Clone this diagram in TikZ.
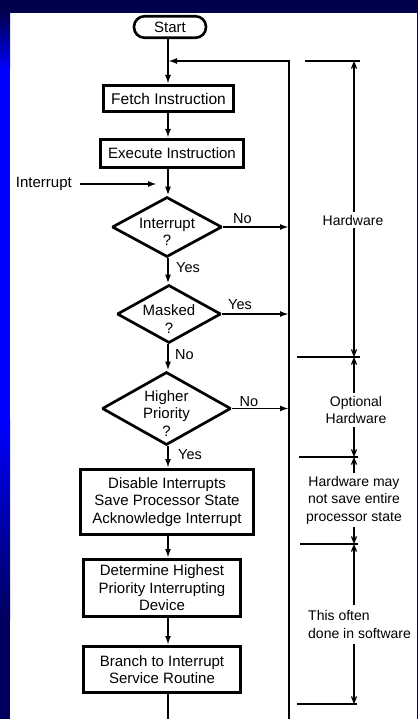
\documentclass[tikz,border=0pt]{standalone}
\usepackage{fontspec}
\setmainfont{Liberation Sans}
\usetikzlibrary{arrows.meta,shapes.geometric}
\definecolor{navy}{RGB}{0,0,78}
\definecolor{navylow}{RGB}{0,0,92}
\definecolor{slideblue}{RGB}{0,0,255}
\begin{document}
\begin{tikzpicture}[x=1pt,y=-1pt,
  every node/.style={font=\fontsize{15}{17.5}\selectfont},
  box/.style={draw, line width=3pt, inner sep=0pt, align=center},
  term/.style={draw, line width=2.6pt, rounded corners=10.5pt, inner sep=0pt,
    minimum width=72pt, minimum height=21.5pt},
  decision/.style={diamond, draw, line width=2.7pt, inner sep=0pt, miter limit=2},
  dtext/.style={align=center, inner sep=0pt},
  conn/.style={line width=1.8pt},
  flow/.style={conn, -{Latex[length=9pt,width=6pt]}},
  dimarrow/.style={line width=1.2pt, -{Straight Barb[length=6pt,width=5pt]}},
  tick/.style={line width=1.2pt},
  lbl/.style={font=\fontsize{14.5}{17.5}\selectfont, inner sep=1.5pt},
  dlbl/.style={font=\fontsize{14}{17.5}\selectfont, inner sep=3pt}
]
\useasboundingbox (0,0) rectangle (418,719);

% slide frame: navy top band, blue left strip, thin right edge
\fill[white] (0,0) rectangle (418,719);
\fill[navy] (0,0) rectangle (418,13);
\shade[top color=navy, bottom color=slideblue] (0,13) rectangle (10,70);
\fill[slideblue] (0,69.5) rectangle (10,420);
\shade[top color=slideblue, bottom color=navylow] (0,419.5) rectangle (10,620);
\fill[navylow] (0,619.5) rectangle (10,719);
\fill[navy] (417,13) rectangle (418,719);

% reference columns
\coordinate (col) at (168,0);
\coordinate (rt) at (289,0);

% main flow
\node[term] (start) at (170,27) {Start};
\coordinate (loop) at (168,61);
\node[box, minimum width=130pt, minimum height=26pt,
  font=\fontsize{15.5}{17.5}\selectfont] (fetch) at (168.5,98.5) {Fetch Instruction};
\node[box, minimum width=143pt, minimum height=28pt] (exec) at (172,153.5) {Execute Instruction};

\node[decision, minimum width=110pt, minimum height=60pt] (intd) at (167,227) {};
\node[dtext] (intt) at (167,232) {Interrupt\\?};
\node[decision, minimum width=104pt, minimum height=58pt] (mskd) at (169,314) {};
\node[dtext] (mskt) at (169,319) {Masked\\?};
\node[decision, minimum width=129pt, minimum height=73pt] (hpd) at (166.5,408.5) {};
\node[dtext] (hpt) at (166.5,413.5) {Higher\\Priority\\?};

\node[box, minimum width=173pt, minimum height=65pt] (dis) at (167,502)
  {Disable Interrupts\\Save Processor State\\Acknowledge Interrupt};
\node[box, minimum width=157pt, minimum height=57pt] (det) at (162,588)
  {Determine Highest\\Priority Interrupting\\Device};
\node[box, minimum width=157pt, minimum height=46pt] (br) at (162,669.5)
  {Branch to Interrupt\\Service Routine};

% external interrupt input
\node[anchor=east, inner sep=0pt] (irq) at (72,184) {Interrupt};
\coordinate (irqend) at (157,184);
\draw[flow] ([xshift=8pt]irq.east) -- (irqend);

% vertical connectors
\draw[flow] (start.south -| col) -- (fetch.north -| col);
\draw[flow] (fetch.south -| col) -- (exec.north -| col);
\draw[flow] (exec.south -| col) -- (intd.north -| col);
\draw[flow] (intd.south -| col) -- (mskd.north -| col);
\draw[flow] (mskd.south -| col) -- (hpd.north -| col);
\draw[flow] (hpd.south -| col) -- (dis.north -| col);
\draw[flow] (dis.south -| col) -- (det.north -| col);
\draw[flow] (det.south -| col) -- (br.north -| col);
\coordinate (bot) at (168,719);
\draw[conn] (br.south -| col) -- (bot);

% return path
\coordinate (rbot) at (289,719);
\draw[flow] (rbot) -- (loop -| rt) -- (loop);
\draw[flow] (intd.east) -- (intd.east -| rt);
\draw[flow] (mskd.east) -- (mskd.east -| rt);
\draw[flow] (hpd.east) -- (hpd.east -| rt);

% branch labels
\node[lbl] (n1) at (242.5,219) {No};
\node[lbl] (y1) at (188,268) {Yes};
\node[lbl] (y2) at (240,305) {Yes};
\node[lbl] (n2) at (184.5,355) {No};
\node[lbl] (n3) at (249,402) {No};
\node[lbl] (y3) at (190,455) {Yes};

% dimension marks on the right
\coordinate (h0) at (354,61);
\coordinate (h1) at (354,357);
\coordinate (h2) at (354,457);
\coordinate (h3) at (354,544);
\coordinate (h4) at (354,704);
\draw[tick] (305,61) -- (360,61);
\draw[tick] (297,357) -- (360,357);
\draw[tick] (299,457) -- (358,457);
\draw[tick] (300,544) -- (358,544);
\draw[tick] (297,704) -- (357,704);
\node[dlbl] (hw) at (353,220) {Hardware};
\node[dlbl, align=center] (opt) at (356,410) {Optional\\Hardware};
\node[dlbl, align=center] (may) at (354,500) {Hardware may\\not save entire\\processor state};
\node[dlbl, align=left, anchor=west, inner xsep=0pt, inner ysep=5pt] (soft) at (308,624.5) {This often\\done in software};
\draw[dimarrow] (hw.north -| h0) -- (h0);
\draw[dimarrow] (hw.south -| h0) -- (h1);
\draw[dimarrow] (opt.north -| h1) -- (h1);
\draw[dimarrow] (opt.south -| h1) -- (h2);
\draw[dimarrow] (may.north -| h2) -- (h2);
\draw[dimarrow] (may.south -| h2) -- (h3);
\draw[dimarrow] (soft.north -| h3) -- (h3);
\draw[dimarrow] (soft.south -| h3) -- (h4);
\end{tikzpicture}
\end{document}
